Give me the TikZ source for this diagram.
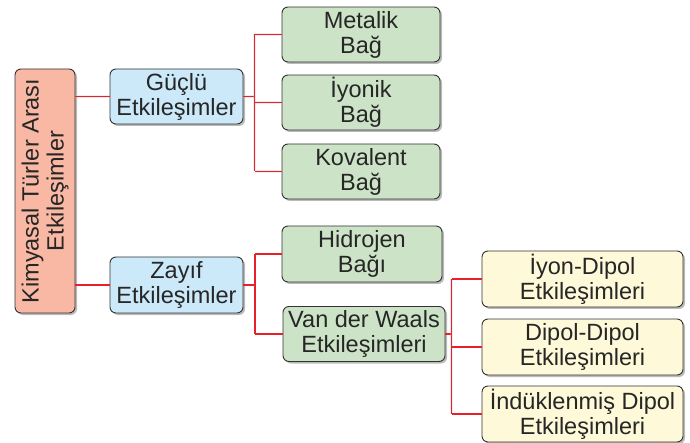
\documentclass[tikz,border=0pt]{standalone}
\usepackage{fontspec}
\setmainfont{Liberation Sans}
\usetikzlibrary{shadows}

\definecolor{rootfill}{HTML}{F8B8A4}
\definecolor{bluefill}{HTML}{CCE9F9}
\definecolor{greenfill}{HTML}{CDE3C7}
\definecolor{yellowfill}{HTML}{FEF9D8}
\definecolor{linkred}{HTML}{E8202A}

\tikzset{
  box/.style={draw=black!80, line width=0.9pt, rounded corners=6pt,
    align=center, inner sep=1pt, text=black!85,
    font=\fontsize{23.5}{25}\selectfont,
    drop shadow={shadow xshift=2pt, shadow yshift=-2pt, opacity=0.45, fill=black!60}},
  conn/.style={draw=linkred, line width=1.1pt,
    preaction={draw=black!25, line width=2.4pt, opacity=0.3}},
}

\begin{document}
\begin{tikzpicture}[x=1pt, y=-1pt]
	\useasboundingbox (0,0) rectangle (690,443);

	%Boxes
	\node[box, fill=rootfill, rotate=90, minimum width=244, minimum height=60] (root) at (45,191) {Kimyasal Türler Arası\\Etkileşimler};

	\node[box, fill=bluefill, minimum width=133, minimum height=55] (strong) at (176.5,96.5) {Güçlü\\Etkileşimler};
	\node[box, fill=bluefill, minimum width=133, minimum height=56] (weak) at (176.5,285) {Zayıf\\Etkileşimler};

	\node[box, fill=greenfill, minimum width=158, minimum height=55] (metal) at (361,34.5) {Metalik\\Bağ};
	\node[box, fill=greenfill, minimum width=158, minimum height=55] (ionic) at (361,102.5) {İyonik\\Bağ};
	\node[box, fill=greenfill, minimum width=158, minimum height=55] (cov) at (361,171.5) {Kovalent\\Bağ};

	\node[box, fill=greenfill, minimum width=160, minimum height=56] (hyd) at (362,254) {Hidrojen\\Bağı};
	\node[box, fill=greenfill, minimum width=162, minimum height=55] (vdw) at (364,334) {Van der Waals\\Etkileşimleri};

	\node[box, fill=yellowfill, minimum width=201, minimum height=56] (iondip) at (582.5,279) {İyon-Dipol\\Etkileşimleri};
	\node[box, fill=yellowfill, minimum width=201, minimum height=56] (dipdip) at (582.5,347) {Dipol-Dipol\\Etkileşimleri};
	\node[box, fill=yellowfill, minimum width=201, minimum height=56] (induced) at (582.5,414) {İndüklenmiş Dipol\\Etkileşimleri};

	%Buses
	\coordinate (sbus) at (254.5,0);
	\coordinate (wbus) at (255,0);
	\coordinate (vbus) at (451.5,0);

	%Links
	\draw[conn] (root.south |- strong) -- (strong.west);
	\draw[conn] (root.south |- weak) -- (weak.west);

	\draw[conn] (strong.east) -- (strong.east -| sbus);
	\draw[conn] (sbus |- metal) -- (sbus |- cov);
	\foreach \n in {metal,ionic,cov}
		\draw[conn] (sbus |- \n) -- (\n.west);

	\draw[conn] (weak.east) -- (weak.east -| wbus);
	\draw[conn] (wbus |- hyd) -- (wbus |- vdw);
	\foreach \n in {hyd,vdw}
		\draw[conn] (wbus |- \n) -- (\n.west);

	\draw[conn] (vdw.east) -- (vdw.east -| vbus);
	\draw[conn] (vbus |- iondip) -- (vbus |- induced);
	\foreach \n in {iondip,dipdip,induced}
		\draw[conn] (vbus |- \n) -- (\n.west);
\end{tikzpicture}
\end{document}
